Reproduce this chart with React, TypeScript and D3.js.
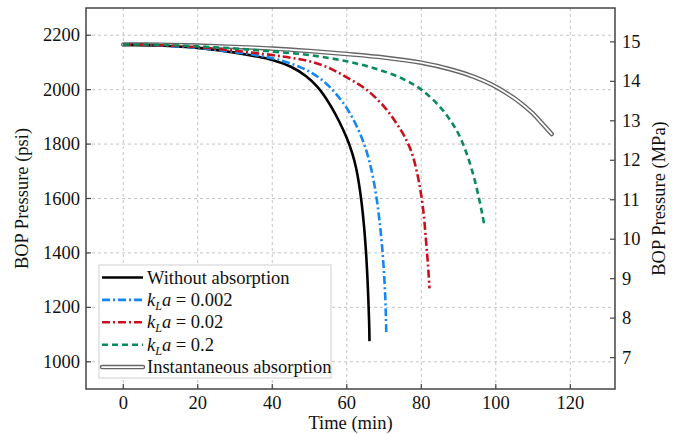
import React from "react";
import * as d3 from "d3";

const xTicks = [0, 20, 40, 60, 80, 100, 120];
const psiTicks = [1000, 1200, 1400, 1600, 1800, 2000, 2200];
const mpaTicks = [7, 8, 9, 10, 11, 12, 13, 14, 15];

const tBlack = [0, 10, 20, 30, 35, 40, 45, 49, 52, 54, 56, 58, 60, 61.5, 62.5, 63.3, 64, 64.6, 65.1, 65.5, 65.8, 66.0, 66.1];
const pBlack = [2166, 2162, 2153, 2136, 2124, 2109, 2084, 2050, 2012, 1977, 1933, 1882, 1822, 1765, 1712, 1652, 1582, 1503, 1416, 1321, 1226, 1146, 1076];

const tBlue = [0, 10, 20, 30, 35, 40, 45, 50, 54, 57, 60, 62.5, 64.5, 66, 67.2, 68.1, 68.8, 69.4, 69.9, 70.3, 70.5, 70.6];
const pBlue = [2166, 2162, 2153, 2138, 2128, 2115, 2096, 2066, 2028, 1986, 1932, 1870, 1806, 1740, 1666, 1592, 1516, 1436, 1346, 1246, 1166, 1105];

const tRed = [0, 10, 20, 30, 40, 45, 50, 55, 60, 65, 70, 73, 75.5, 77.5, 79, 80, 80.7, 81.2, 81.6, 81.9, 82.2];
const pRed = [2166, 2163, 2156, 2143, 2127, 2117, 2104, 2081, 2045, 2003, 1938, 1883, 1828, 1766, 1686, 1611, 1536, 1456, 1391, 1336, 1270];

const tGreen = [0, 10, 20, 30, 40, 50, 60, 68, 75, 80, 85, 88, 90, 92, 94, 95.5, 96.4, 97];
const pGreen = [2166, 2165, 2159, 2151, 2140, 2127, 2104, 2076, 2040, 2000, 1937, 1883, 1837, 1772, 1685, 1600, 1540, 1496];

const tGray = [0, 10, 20, 30, 40, 50, 60, 70, 80, 88, 94, 99, 103, 106.5, 109.5, 112.3, 115];
const pGray = [2166, 2165, 2162, 2157, 2151, 2142, 2131, 2118, 2099, 2074, 2048, 2018, 1986, 1953, 1918, 1878, 1837];

const W = 679, H = 434;
const L = 86, R = 615, T = 8, B = 389;
const PSI_PER_MPA = 145.0377;

const x = d3.scaleLinear().domain([-10, 132]).range([L, R]);
const y = d3.scaleLinear().domain([900, 2300]).range([B, T]);

const mk = (ts: number[], ps: number[]) =>
  d3.line<number>().x((_, i) => x(ts[i])).y((_, i) => y(ps[i])).curve(d3.curveCatmullRom.alpha(0.5))(ts) || "";

const BLUE = "#1487f5";
const RED = "#c8101e";
const GREEN = "#0a8a5a";
const FONT = "'Liberation Serif', 'Times New Roman', serif";

const series = [
  { name: "black", d: mk(tBlack, pBlack), color: "#000", dash: "none" },
  { name: "blue", d: mk(tBlue, pBlue), color: BLUE, dash: "8,3,2,3" },
  { name: "red", d: mk(tRed, pRed), color: RED, dash: "8,3,2,3" },
  { name: "green", d: mk(tGreen, pGreen), color: GREEN, dash: "6,4" },
];

const legendRows = [
  { label: "Without absorption", kla: null, color: "#000", dash: "none", dbl: false },
  { label: "", kla: "0.002", color: BLUE, dash: "8,3,2,3", dbl: false },
  { label: "", kla: "0.02", color: RED, dash: "8,3,2,3", dbl: false },
  { label: "", kla: "0.2", color: GREEN, dash: "6,4", dbl: false },
  { label: "Instantaneous absorption", kla: null, color: "#666", dash: "none", dbl: true },
];

export default function App() {
  const grayD = mk(tGray, pGray);
  const lx = 99, ly = 265, lw = 232, lh = 113;
  const fs = 18.5;
  return (
    <svg width={W} height={H} style={{ position: "absolute", left: 0, top: 0, background: "#fff", fontFamily: FONT }}>
      <rect x={0} y={0} width={W} height={H} fill="#fff" />
      <g stroke="#c4c4c4" strokeWidth={1} strokeDasharray="3,3">
        {xTicks.map((t) => (
          <line key={"gx" + t} x1={x(t)} x2={x(t)} y1={T} y2={B} />
        ))}
        {psiTicks.map((p) => (
          <line key={"gy" + p} x1={L} x2={R} y1={y(p)} y2={y(p)} />
        ))}
      </g>
      <path d={grayD} fill="none" stroke="#666" strokeWidth={4.5} strokeLinecap="round" />
      <path d={grayD} fill="none" stroke="#fff" strokeWidth={1.8} strokeLinecap="round" />
      {series.map((s) => (
        <path key={s.name} d={s.d} fill="none" stroke={s.color} strokeWidth={2.6} strokeDasharray={s.dash} />
      ))}
      <rect x={L} y={T} width={R - L} height={B - T} fill="none" stroke="#444" strokeWidth={1.5} />
      <g stroke="#444" strokeWidth={1.2}>
        {xTicks.map((t) => (
          <line key={"tx" + t} x1={x(t)} x2={x(t)} y1={B} y2={B - 5} />
        ))}
        {psiTicks.map((p) => (
          <line key={"ty" + p} x1={L} x2={L + 5} y1={y(p)} y2={y(p)} />
        ))}
        {mpaTicks.map((m) => (
          <line key={"tm" + m} x1={R} x2={R - 5} y1={y(m * PSI_PER_MPA)} y2={y(m * PSI_PER_MPA)} />
        ))}
      </g>
      <g fontSize={fs} fill="#111">
        {xTicks.map((t) => (
          <text key={"lx" + t} x={x(t)} y={409} textAnchor="middle">{t}</text>
        ))}
        {psiTicks.map((p) => (
          <text key={"ly" + p} x={80} y={y(p) + 6} textAnchor="end">{p}</text>
        ))}
        {mpaTicks.map((m) => (
          <text key={"lm" + m} x={622} y={y(m * PSI_PER_MPA) + 6} textAnchor="start">{m}</text>
        ))}
      </g>
      <text x={(L + R) / 2} y={429} fontSize={fs} textAnchor="middle" fill="#111">Time (min)</text>
      <text transform={`translate(28, ${(T + B) / 2}) rotate(-90)`} fontSize={fs} textAnchor="middle" fill="#111">BOP Pressure (psi)</text>
      <text transform={`translate(665, ${(T + B) / 2}) rotate(-90)`} fontSize={fs} textAnchor="middle" fill="#111">BOP Pressure (MPa)</text>
      <rect x={lx} y={ly} width={lw} height={lh} fill="#fff" stroke="#cfcfcf" strokeWidth={1} />
      {legendRows.map((r, i) => {
        const cy = 277.5 + i * 22.4;
        return (
          <g key={"lg" + i}>
            {r.dbl ? (
              <>
                <line x1={102} x2={143} y1={cy} y2={cy} stroke="#666" strokeWidth={4.5} strokeLinecap="round" />
                <line x1={102} x2={143} y1={cy} y2={cy} stroke="#fff" strokeWidth={1.8} strokeLinecap="round" />
              </>
            ) : (
              <line x1={102} x2={143} y1={cy} y2={cy} stroke={r.color} strokeWidth={2.6} strokeDasharray={r.dash} />
            )}
            {r.kla === null ? (
              <text x={147} y={cy + 6} fontSize={fs} fill="#111">{r.label}</text>
            ) : (
              <text x={147} y={cy + 6} fontSize={fs} fill="#111">
                <tspan fontStyle="italic">k</tspan>
                <tspan fontStyle="italic" fontSize={12} dy={4}>L</tspan>
                <tspan fontStyle="italic" dy={-4}>a</tspan>
                <tspan> = {r.kla}</tspan>
              </text>
            )}
          </g>
        );
      })}
    </svg>
  );
}
